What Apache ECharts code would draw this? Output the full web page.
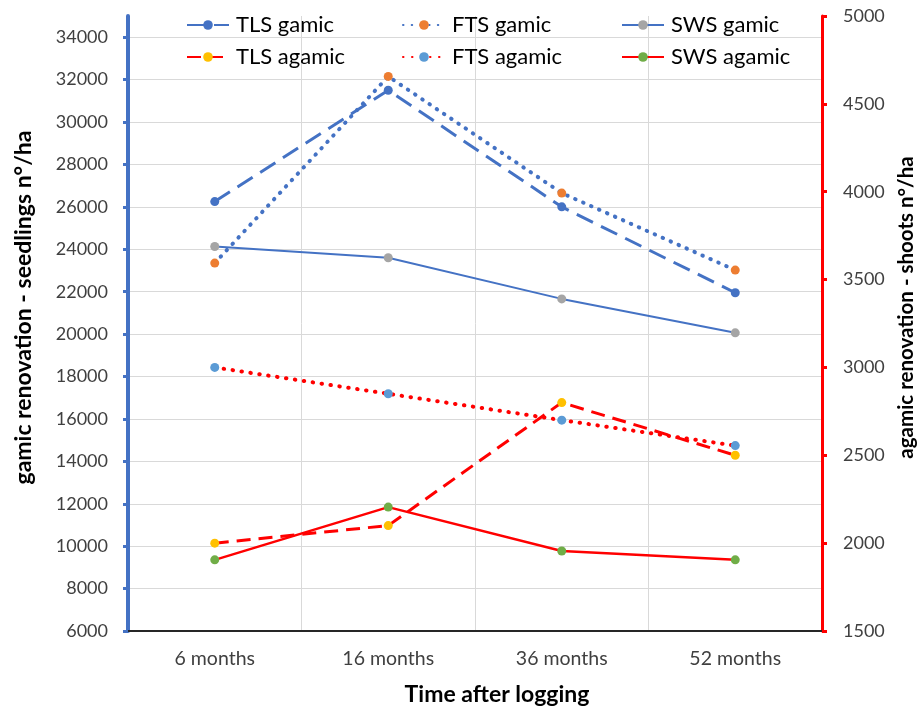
<!DOCTYPE html>
<html>
<head>
<meta charset="utf-8">
<script src="https://cdn.jsdelivr.net/npm/echarts@6/dist/echarts.min.js"></script>
<style>
html,body{margin:0;padding:0;background:#fff;}
#chart{width:919px;height:710px;}
</style>
</head>
<body>
<div id="chart"></div>
<script>
var categories = ['6 months', '16 months', '36 months', '52 months'];
var tlsGamic = [26250, 31500, 26000, 21950];
var ftsGamic = [23350, 32150, 26650, 23020];
var swsGamic = [24130, 23600, 21660, 20060];
var tlsAgamic = [2000, 2100, 2800, 2500];
var ftsAgamic = [3000, 2850, 2700, 2555];
var swsAgamic = [1905, 2205, 1955, 1905];

var FONT = 'Lato';
var BLUE = '#4472C4';
var RED = '#FF0000';

function legendItem(name, left, top) {
  return {
    data: [name], left: left, top: top, itemWidth: 42, itemHeight: 12, itemGap: 0,
    textStyle: {fontFamily: FONT, fontSize: 22, color: '#000', padding: [0, 0, 0, 2]},
    selectedMode: false
  };
}
function plain(v) { return String(v); }

var chart = echarts.init(document.getElementById('chart'), null, {renderer: 'canvas'});
chart.setOption({
  animation: false,
  textStyle: {fontFamily: FONT},
  grid: {left: 128, right: 97, top: 16, bottom: 79, containLabel: false, outerBoundsMode: 'none'},
  legend: [
    legendItem('TLS gamic', 181, 9),
    legendItem('FTS gamic', 397, 9),
    legendItem('SWS gamic', 616, 9),
    legendItem('TLS agamic', 181, 41),
    legendItem('FTS agamic', 397, 41),
    legendItem('SWS agamic', 616, 41)
  ],
  xAxis: {
    type: 'category', data: categories, boundaryGap: true,
    name: 'Time after logging', nameLocation: 'middle', nameGap: 52,
    nameTextStyle: {fontFamily: FONT, fontSize: 23, fontWeight: 'bold', color: '#000', padding: [0, 0, 0, 44]},
    axisLine: {show: true, onZero: false, lineStyle: {color: '#262626', width: 2}},
    axisTick: {show: false},
    axisLabel: {fontFamily: FONT, fontSize: 19.5, color: '#404040', margin: 18},
    splitLine: {show: true, interval: 0, lineStyle: {color: '#D9D9D9', width: 1}}
  },
  yAxis: [
    {
      type: 'value', position: 'left', min: 6000, max: 35000, interval: 2000,
      name: 'gamic renovation - seedlings n°/ha', nameLocation: 'middle', nameGap: 93,
      nameTextStyle: {fontFamily: FONT, fontSize: 23, fontWeight: 'bold', color: '#000', padding: [0, 0, 0, 32]},
      axisLine: {show: true, lineStyle: {color: BLUE, width: 4}},
      axisTick: {show: true, length: 5, lineStyle: {color: BLUE, width: 3}},
      axisLabel: {fontFamily: FONT, fontSize: 18, color: '#404040', margin: 20, showMaxLabel: false, formatter: plain},
      splitLine: {show: true, showMaxLine: false, lineStyle: {color: '#D9D9D9', width: 1}}
    },
    {
      type: 'value', position: 'right', min: 1500, max: 5000, interval: 500,
      name: 'agamic renovation - shoots n°/ha', nameLocation: 'middle', nameGap: 74,
      nameTextStyle: {fontFamily: FONT, fontSize: 20.5, fontWeight: 'bold', color: '#000', padding: [0, 0, 0, 32]},
      axisLine: {show: true, lineStyle: {color: RED, width: 3}},
      axisTick: {show: true, length: 5, lineStyle: {color: RED, width: 3}},
      axisLabel: {fontFamily: FONT, fontSize: 18, color: '#404040', margin: 21, formatter: plain},
      splitLine: {show: false}
    }
  ],
  series: [
    {
      name: 'TLS gamic', type: 'line', yAxisIndex: 0, data: tlsGamic,
      symbol: 'circle', symbolSize: 9,
      lineStyle: {color: BLUE, width: 3, type: [18, 9]},
      itemStyle: {color: BLUE}
    },
    {
      name: 'FTS gamic', type: 'line', yAxisIndex: 0, data: ftsGamic,
      symbol: 'circle', symbolSize: 9,
      lineStyle: {color: BLUE, width: 4, type: [0.5, 8.2], cap: 'round'},
      itemStyle: {color: '#ED7D31'}
    },
    {
      name: 'SWS gamic', type: 'line', yAxisIndex: 0, data: swsGamic,
      symbol: 'circle', symbolSize: 9,
      lineStyle: {color: BLUE, width: 2},
      itemStyle: {color: '#A5A5A5'}
    },
    {
      name: 'TLS agamic', type: 'line', yAxisIndex: 1, data: tlsAgamic,
      symbol: 'circle', symbolSize: 9,
      lineStyle: {color: RED, width: 3, type: [14, 8]},
      itemStyle: {color: '#FFC000'}
    },
    {
      name: 'FTS agamic', type: 'line', yAxisIndex: 1, data: ftsAgamic,
      symbol: 'circle', symbolSize: 9,
      lineStyle: {color: RED, width: 4, type: [0.5, 8.5], cap: 'round'},
      itemStyle: {color: '#5B9BD5'}
    },
    {
      name: 'SWS agamic', type: 'line', yAxisIndex: 1, data: swsAgamic,
      symbol: 'circle', symbolSize: 9,
      lineStyle: {color: RED, width: 2.5},
      itemStyle: {color: '#70AD47'}
    }
  ]
});
</script>
</body>
</html>
